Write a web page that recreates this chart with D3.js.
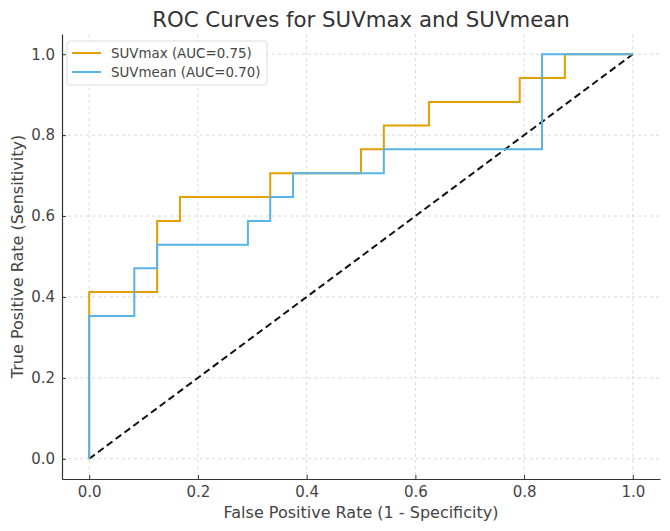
<!DOCTYPE html>
<html>
<head>
<meta charset="utf-8">
<script src="https://cdn.jsdelivr.net/npm/d3@7"></script>
<style>
  body { margin: 0; background: #fff; }
  svg { font-family: "DejaVu Sans", sans-serif; }
</style>
</head>
<body>
<script>
// ROC points (fpr, tpr)
var maxFpr = [0, 0, 0.125, 0.125, 0.167, 0.167, 0.333, 0.333, 0.5, 0.5, 0.542, 0.542, 0.625, 0.625, 0.792, 0.792, 0.875, 0.875, 1.0];
var maxTpr = [0, 0.412, 0.412, 0.588, 0.588, 0.647, 0.647, 0.706, 0.706, 0.765, 0.765, 0.824, 0.824, 0.882, 0.882, 0.941, 0.941, 1.0, 1.0];
var meanFpr = [0, 0, 0.083, 0.083, 0.125, 0.125, 0.292, 0.292, 0.333, 0.333, 0.375, 0.375, 0.542, 0.542, 0.833, 0.833, 1.0];
var meanTpr = [0, 0.353, 0.353, 0.471, 0.471, 0.529, 0.529, 0.588, 0.588, 0.647, 0.647, 0.706, 0.706, 0.765, 0.765, 1.0, 1.0];
var seriesNames = ["SUVmax (AUC=0.75)", "SUVmean (AUC=0.70)"];
var ticks = [0, 0.2, 0.4, 0.6, 0.8, 1.0];

var W = 670, H = 531;
var m = {left: 62, right: 10, top: 34, bottom: 52};

var svg = d3.select('body').append('svg')
  .attr('width', W).attr('height', H);

var x = d3.scaleLinear().domain([-0.05, 1.05]).range([m.left, W - m.right]);
var y = d3.scaleLinear().domain([-0.05, 1.05]).range([H - m.bottom, m.top]);

// grid
var grid = svg.append('g').attr('stroke', '#d0d0d0').attr('stroke-width', 0.8).attr('stroke-dasharray', '3,3');
grid.selectAll('.gx').data(ticks).enter().append('line')
  .attr('x1', function(d){ return x(d); }).attr('x2', function(d){ return x(d); })
  .attr('y1', m.top).attr('y2', H - m.bottom);
grid.selectAll('.gy').data(ticks).enter().append('line')
  .attr('y1', function(d){ return y(d); }).attr('y2', function(d){ return y(d); })
  .attr('x1', m.left).attr('x2', W - m.right);

// axes
var xAxis = svg.append('g').attr('transform', 'translate(0,' + (H - m.bottom) + ')')
  .call(d3.axisBottom(x).tickValues(ticks).tickFormat(d3.format('.1f')).tickSizeInner(-4).tickSizeOuter(0).tickPadding(7));
var yAxis = svg.append('g').attr('transform', 'translate(' + m.left + ',0)')
  .call(d3.axisLeft(y).tickValues(ticks).tickFormat(d3.format('.1f')).tickSizeInner(-4).tickSizeOuter(0).tickPadding(7));
[xAxis, yAxis].forEach(function(a){
  a.select('.domain').attr('stroke', '#333').attr('stroke-width', 1.2);
  a.selectAll('.tick line').attr('stroke', '#333');
  a.selectAll('.tick text').attr('fill', '#444').style('font-size', '15px').style('font-family', 'DejaVu Sans');
});

// diagonal
svg.append('line')
  .attr('x1', x(0)).attr('y1', y(0)).attr('x2', x(1)).attr('y2', y(1))
  .attr('stroke', '#111').attr('stroke-width', 2).attr('stroke-dasharray', '7,4');

var line = d3.line().x(function(d){ return x(d[0]); }).y(function(d){ return y(d[1]); });
var series = [
  {pts: d3.zip(maxFpr, maxTpr), color: '#E69F00'},
  {pts: d3.zip(meanFpr, meanTpr), color: '#56B4E9'}
];
svg.selectAll('.roc').data(series).enter().append('path')
  .attr('d', function(d){ return line(d.pts); })
  .attr('fill', 'none').attr('stroke', function(d){ return d.color; }).attr('stroke-width', 2);

// legend
var lg = svg.append('g');
lg.append('rect').attr('x', 67).attr('y', 41).attr('width', 200).attr('height', 44)
  .attr('rx', 3).attr('fill', '#fff').attr('fill-opacity', 0.85).attr('stroke', '#ddd');
series.forEach(function(s, i){
  var yy = 53 + i * 19;
  lg.append('line').attr('x1', 72).attr('x2', 101).attr('y1', yy).attr('y2', yy)
    .attr('stroke', s.color).attr('stroke-width', 2);
  lg.append('text').attr('x', 111).attr('y', yy + 5).text(seriesNames[i])
    .attr('fill', '#444').style('font-size', '13.4px');
});

// titles
svg.append('text').attr('x', (m.left + W - m.right) / 2).attr('y', 27)
  .attr('text-anchor', 'middle').attr('fill', '#333').style('font-size', '21.3px')
  .text('ROC Curves for SUVmax and SUVmean');
svg.append('text').attr('x', (m.left + W - m.right) / 2).attr('y', 518)
  .attr('text-anchor', 'middle').attr('fill', '#444').style('font-size', '16px')
  .text('False Positive Rate (1 - Specificity)');
svg.append('text')
  .attr('transform', 'translate(23,' + ((m.top + H - m.bottom) / 2) + ') rotate(-90)')
  .attr('text-anchor', 'middle').attr('fill', '#444').style('font-size', '16px')
  .text('True Positive Rate (Sensitivity)');
</script>
</body>
</html>
